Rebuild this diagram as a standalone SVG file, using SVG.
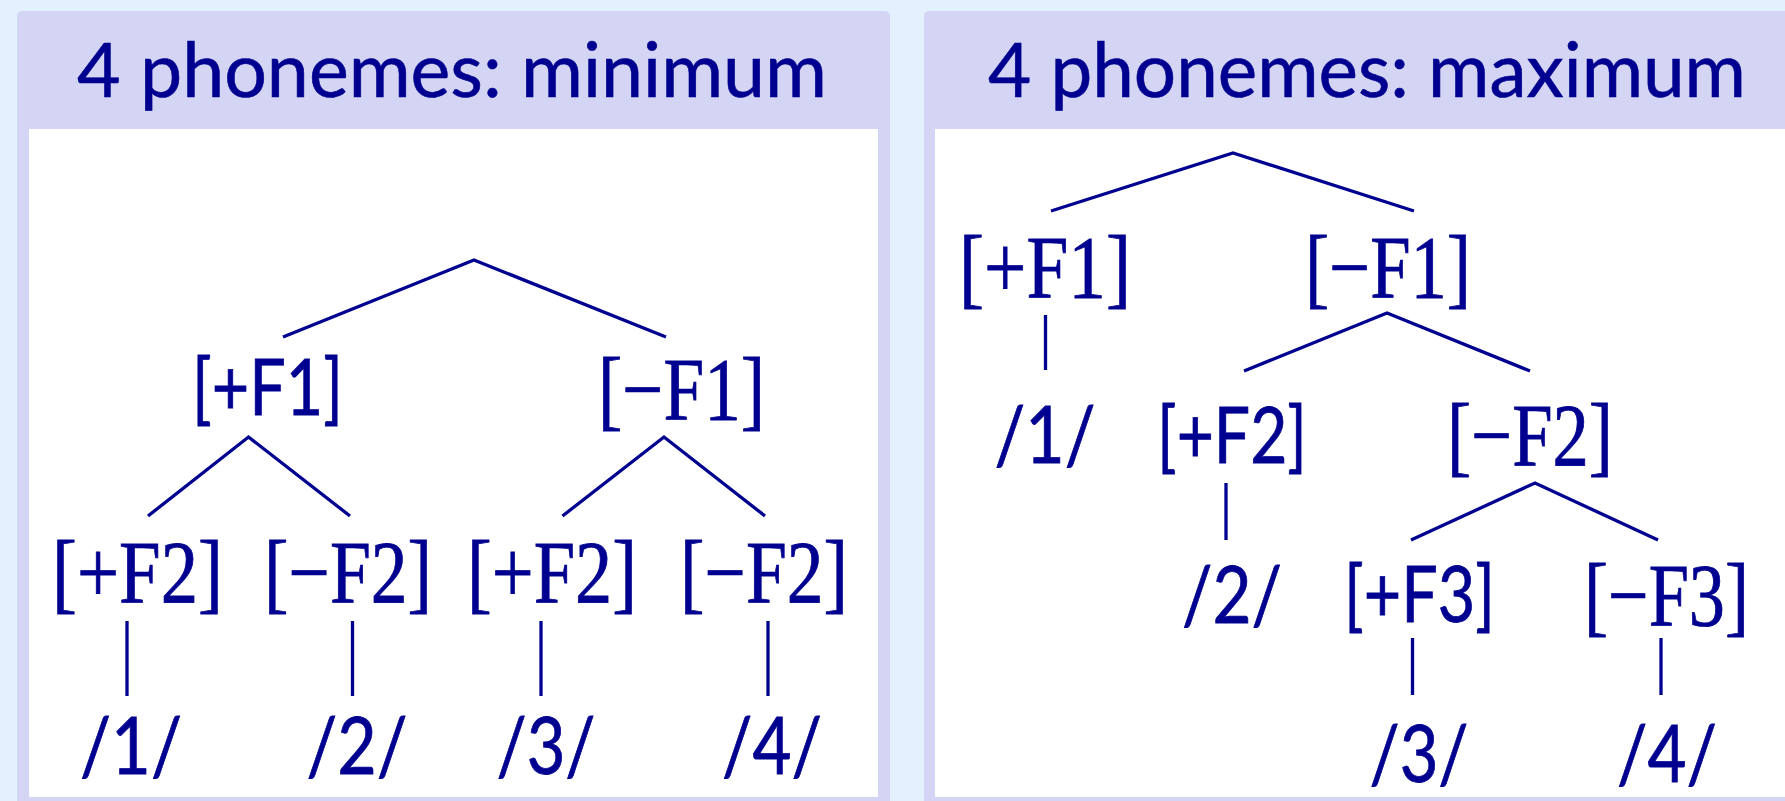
<svg xmlns="http://www.w3.org/2000/svg" width="1785" height="801" viewBox="0 0 1785 801">
<style>
.bg{fill:#E3F0FE}
.panel{fill:#D4D4F4}
.inner{fill:#FFFFFF}
.title{font-family:Lato,"Liberation Sans",sans-serif;font-size:76px;fill:#000090;stroke:#000090;stroke-width:0.6;text-anchor:middle}
.sans{font-family:Lato,"Liberation Sans",sans-serif;font-size:78px;fill:#000090;stroke:#000090;stroke-width:0.8;text-anchor:middle}
.slash{font-family:Lato,"Liberation Sans",sans-serif;font-size:80px;fill:#000090;stroke:#000090;stroke-width:0.8;text-anchor:middle}
.serif{font-family:"Liberation Serif","DejaVu Serif",serif;font-size:88px;fill:#000090;stroke:#000090;stroke-width:0.8;text-anchor:middle}
.ln{fill:none;stroke:#000090;stroke-width:3.3}
</style>
<rect class="bg" x="0" y="0" width="1785" height="801"/>
<g id="panel-min">
<rect class="panel" x="17" y="11" width="873" height="800" rx="5"/>
<rect class="inner" x="29" y="129" width="849" height="668"/>
<text class="title" x="452" y="97" textLength="750" lengthAdjust="spacingAndGlyphs">4 phonemes: minimum</text>
</g>
<g id="panel-max">
<rect class="panel" x="924" y="11" width="880" height="800" rx="5"/>
<rect class="inner" x="935" y="129" width="860" height="668"/>
<text class="title" x="1367" y="97" textLength="758" lengthAdjust="spacingAndGlyphs">4 phonemes: maximum</text>
</g>
<g id="connectors">
<polyline class="ln" points="283,337 474,260 666,337"/>
<polyline class="ln" points="148,516 248.5,437 350,516"/>
<polyline class="ln" points="562.5,516 664,437 765,516"/>
<line class="ln" x1="127" y1="621" x2="127" y2="696"/>
<line class="ln" x1="352.5" y1="621" x2="352.5" y2="696"/>
<line class="ln" x1="541" y1="621" x2="541" y2="696"/>
<line class="ln" x1="768" y1="621" x2="768" y2="696"/>
<polyline class="ln" points="1051,211 1233,153 1414,211"/>
<line class="ln" x1="1045.5" y1="315" x2="1045.5" y2="370"/>
<polyline class="ln" points="1244,371 1387,313 1530,371"/>
<line class="ln" x1="1226" y1="483" x2="1226" y2="540"/>
<polyline class="ln" points="1411,540 1535,483 1658,540"/>
<line class="ln" x1="1412.5" y1="638" x2="1412.5" y2="695"/>
<line class="ln" x1="1661" y1="638" x2="1661" y2="695"/>
</g>
<g id="min-plusF1"><text class="sans" x="267.5" y="415" textLength="151" lengthAdjust="spacingAndGlyphs">[+F1]</text></g>
<g id="min-minusF1"><text class="serif" x="681.5" y="419" textLength="167" lengthAdjust="spacingAndGlyphs">[−F1]</text></g>
<g id="min-plusF2a"><text class="serif" x="137.5" y="602" textLength="171" lengthAdjust="spacingAndGlyphs">[+F2]</text></g>
<g id="min-minusF2a"><text class="serif" x="348" y="602" textLength="168" lengthAdjust="spacingAndGlyphs">[−F2]</text></g>
<g id="min-plusF2b"><text class="serif" x="552" y="602" textLength="170" lengthAdjust="spacingAndGlyphs">[+F2]</text></g>
<g id="min-minusF2b"><text class="serif" x="764" y="602" textLength="168" lengthAdjust="spacingAndGlyphs">[−F2]</text></g>
<g id="min-p1"><text class="slash" x="131" y="774" textLength="102" lengthAdjust="spacingAndGlyphs">/1/</text></g>
<g id="min-p2"><text class="slash" x="357" y="774" textLength="101" lengthAdjust="spacingAndGlyphs">/2/</text></g>
<g id="min-p3"><text class="slash" x="546" y="774" textLength="99" lengthAdjust="spacingAndGlyphs">/3/</text></g>
<g id="min-p4"><text class="slash" x="772" y="774" textLength="100" lengthAdjust="spacingAndGlyphs">/4/</text></g>
<g id="max-plusF1"><text class="serif" x="1045" y="297" textLength="172" lengthAdjust="spacingAndGlyphs">[+F1]</text></g>
<g id="max-minusF1"><text class="serif" x="1388" y="297" textLength="166" lengthAdjust="spacingAndGlyphs">[−F1]</text></g>
<g id="max-p1"><text class="slash" x="1045" y="463" textLength="101" lengthAdjust="spacingAndGlyphs">/1/</text></g>
<g id="max-plusF2"><text class="sans" x="1232" y="463" textLength="150" lengthAdjust="spacingAndGlyphs">[+F2]</text></g>
<g id="max-minusF2"><text class="serif" x="1530" y="465" textLength="166" lengthAdjust="spacingAndGlyphs">[−F2]</text></g>
<g id="max-p2"><text class="slash" x="1232" y="623" textLength="100" lengthAdjust="spacingAndGlyphs">/2/</text></g>
<g id="max-plusF3"><text class="sans" x="1419.5" y="622" textLength="151" lengthAdjust="spacingAndGlyphs">[+F3]</text></g>
<g id="max-minusF3"><text class="serif" x="1666.5" y="625" textLength="165" lengthAdjust="spacingAndGlyphs">[−F3]</text></g>
<g id="max-p3"><text class="slash" x="1419" y="782" textLength="99" lengthAdjust="spacingAndGlyphs">/3/</text></g>
<g id="max-p4"><text class="slash" x="1667" y="782" textLength="100" lengthAdjust="spacingAndGlyphs">/4/</text></g>
</svg>
